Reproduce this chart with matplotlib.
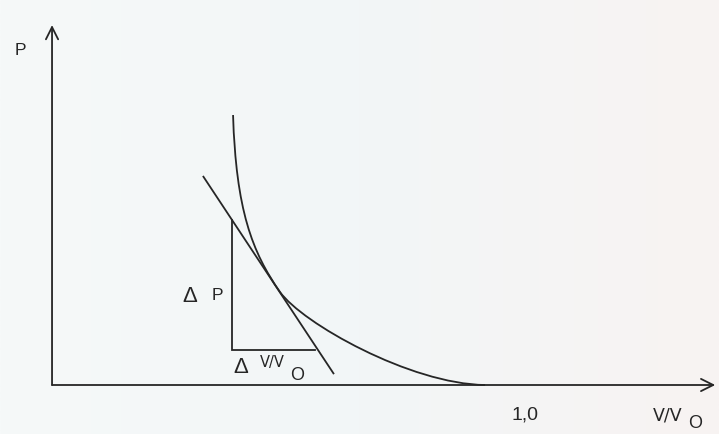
import numpy as np
import matplotlib
matplotlib.use("Agg")
import matplotlib.pyplot as plt
from matplotlib.colors import LinearSegmentedColormap
from matplotlib.path import Path
from matplotlib.patches import PathPatch

plt.rcParams["font.family"] = ["Liberation Sans", "DejaVu Sans"]

# P vs V/V0 curve as two cubic Bezier pieces (start, two handles, end each)
v_curve = [0.3827, 0.3890, 0.4228, 0.4820, 0.5285, 0.7569, 0.9154]
p_curve = [0.5708, 0.3700, 0.2812, 0.1966, 0.1311, 0.0021, 0.0]

# straight line drawn against the curve (slope dP / d(V/V0))
v_tan = [0.319, 0.596]
p_tan = [0.442, 0.023]

# slope triangle: top of the vertical leg, corner, end of the horizontal leg
v_tri = [0.381, 0.381, 0.556]
p_tri = [0.349, 0.074, 0.074]

x_tick = 1.0
x_tick_label = "1,0"
v_axis_end = 1.402
p_axis_end = 0.761

ink = "#262626"

fig = plt.figure(figsize=(7.19, 4.34), dpi=100)
ax = fig.add_axes([0, 0, 1, 1])
ax.set_xlim(-0.110, 1.410)
ax.set_ylim(-0.1036, 0.814)
ax.axis("off")

# paper tone, slightly cool on the left and warmer on the right
paper = LinearSegmentedColormap.from_list("paper", ["#f6f9f9", "#f2f6f7", "#f8f3f2"])
ax.imshow(np.linspace(0, 1, 256).reshape(1, -1), cmap=paper, aspect="auto",
          extent=(-0.110, 1.410, -0.1036, 0.814), zorder=0)

# axes with open arrow heads
arrow = dict(arrowstyle="->", color=ink, lw=1.3, mutation_scale=22,
             shrinkA=0, shrinkB=0)
ax.annotate("", xy=(v_axis_end, 0), xytext=(0, 0), arrowprops=arrow)
ax.annotate("", xy=(0, p_axis_end), xytext=(0, 0), arrowprops=arrow)

codes = [Path.MOVETO] + [Path.CURVE4] * 6
curve = Path(np.column_stack([v_curve, p_curve]), codes)
ax.add_patch(PathPatch(curve, facecolor="none", edgecolor=ink, lw=1.3))

ax.plot(v_tan, p_tan, color=ink, lw=1.3, solid_capstyle="butt")
ax.plot(v_tri, p_tri, color=ink, lw=1.3, solid_joinstyle="miter")

txt = dict(color=ink, va="baseline", ha="left")
ax.text(-0.0782, 0.6977, "P", fontsize=12.5, **txt)

ax.text(0.2748, 0.1755, "Δ", fontsize=16, **txt)
ax.text(0.3383, 0.1797, "P", fontsize=12.5, **txt)

ax.text(0.3827, 0.0254, "Δ", fontsize=16, **txt)
ax.text(0.4397, 0.0381, "V/V", fontsize=10.5, family="DejaVu Sans", **txt)
ax.text(0.5032, 0.0106, "O", fontsize=13, **txt)

ax.text(x_tick, -0.0719, x_tick_label, fontsize=14, color=ink,
        ha="center", va="baseline")
ax.text(1.2706, -0.0740, "V/V", fontsize=12.5, family="DejaVu Sans", **txt)
ax.text(1.3446, -0.0909, "O", fontsize=13, **txt)

fig.savefig("out.png", dpi=100)
